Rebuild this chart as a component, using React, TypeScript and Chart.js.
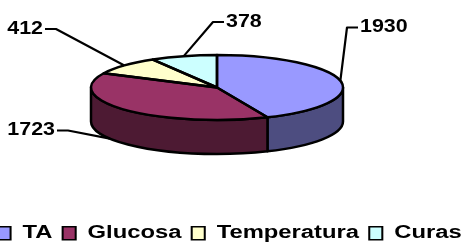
import React, { useEffect, useRef } from "react";
import { Chart, registerables } from "chart.js";

Chart.register(...registerables);

// ---- data ----
const categories = ["TA", "Glucosa", "Temperatura", "Curas"];
const values = [1930, 1723, 412, 378];
const topColors = ["#9999FF", "#993366", "#FFFFCC", "#CCFFFF"];
const sideColors = ["#4D4D80", "#4D1A33", "#80806A", "#6A8080"];

// ---- layout ----
const PIE = { cx: 217, cy: 87.5, rx: 126, ry: 32.5, depth: 34 };
const LABEL_LAYOUT = [
  { x: 360, y: 27.5, align: "left", shift: 0 },
  { x: 55, y: 130.5, align: "right", shift: 12 },
  { x: 43, y: 29, align: "right", shift: 0 },
  { x: 226, y: 22, align: "left", shift: 0 },
];
const LABEL_STRETCH = 1.19;
const LEGEND_T = { cx: 231, sx: 1.36, dx: -1.4, dy: 4 };
const FONT = "'Liberation Sans', Arial, sans-serif";
const LINE_W = 2.5;
const LEADER_W = 2.2;

const pie3d = {
  id: "pie3d",
  afterInit(chart: any) {
    const lg = chart.legend;
    if (!lg || lg.__patched) return;
    const orig = lg.draw;
    lg.draw = function (...args: any[]) {
      const ctx = chart.ctx;
      ctx.save();
      ctx.translate(LEGEND_T.cx + LEGEND_T.dx, LEGEND_T.dy);
      ctx.scale(LEGEND_T.sx, 1);
      ctx.translate(-LEGEND_T.cx, 0);
      orig.apply(this, args);
      ctx.restore();
    };
    lg.__patched = true;
  },
  beforeDatasetsDraw(chart: any) {
    const ctx = chart.ctx;
    const arcs = chart.getDatasetMeta(0).data;
    // side walls (front half only)
    ctx.save();
    ctx.lineWidth = LINE_W;
    ctx.strokeStyle = "#000";
    ctx.lineJoin = "round";
    arcs.forEach((arc: any, i: number) => {
      for (let k = -1; k <= 1; k++) {
        const a = Math.max(arc.startAngle, 2 * Math.PI * k);
        const b = Math.min(arc.endAngle, Math.PI + 2 * Math.PI * k);
        if (b > a) {
          ctx.beginPath();
          ctx.ellipse(PIE.cx, PIE.cy, PIE.rx, PIE.ry, 0, a, b, false);
          ctx.ellipse(PIE.cx, PIE.cy + PIE.depth, PIE.rx, PIE.ry, 0, b, a, true);
          ctx.closePath();
          ctx.fillStyle = sideColors[i];
          ctx.fill();
          ctx.stroke();
        }
      }
    });
    ctx.restore();
    const first = arcs[0];
    const r0 = first.outerRadius;
    ctx.save();
    ctx.translate(PIE.cx, PIE.cy);
    ctx.scale(PIE.rx / r0, PIE.ry / r0);
    ctx.translate(-first.x, -first.y);
  },
  afterDatasetsDraw(chart: any) {
    const ctx = chart.ctx;
    ctx.restore();
    const arcs = chart.getDatasetMeta(0).data;
    const data = chart.data.datasets[0].data;
    ctx.save();
    ctx.setTransform(1, 0, 0, 1, 0, 0);
    ctx.lineWidth = LINE_W;
    ctx.strokeStyle = "#000";
    ctx.lineJoin = "round";
    arcs.forEach((arc: any) => {
      ctx.beginPath();
      ctx.moveTo(PIE.cx, PIE.cy);
      ctx.ellipse(PIE.cx, PIE.cy, PIE.rx, PIE.ry, 0, arc.startAngle, arc.endAngle, false);
      ctx.closePath();
      ctx.stroke();
    });
    // value labels with leader lines
    ctx.font = `bold 18px ${FONT}`;
    ctx.fillStyle = "#000";
    ctx.lineWidth = LEADER_W;
    arcs.forEach((arc: any, i: number) => {
      const L = LABEL_LAYOUT[i];
      const mid = (arc.startAngle + arc.endAngle) / 2 + (L.shift * Math.PI) / 180;
      const s = Math.sin(mid);
      const ax = PIE.cx + PIE.rx * Math.cos(mid);
      const ay = PIE.cy + PIE.ry * s + (s > 0 ? PIE.depth : 0);
      const dir = L.align === "left" ? -1 : 1;
      ctx.beginPath();
      ctx.moveTo(ax, ay);
      ctx.lineTo(L.x + dir * 13, L.y);
      ctx.lineTo(L.x + dir * 2, L.y);
      ctx.stroke();
      ctx.save();
      ctx.translate(L.x, L.y);
      ctx.scale(LABEL_STRETCH, 1);
      ctx.textAlign = L.align as CanvasTextAlign;
      ctx.textBaseline = "middle";
      ctx.fillText(String(data[i]), 0, 0);
      ctx.restore();
    });
    ctx.restore();
  },
};

export default function App() {
  const ref = useRef<HTMLCanvasElement>(null);
  useEffect(() => {
    const chart = new Chart(ref.current as HTMLCanvasElement, {
      type: "pie",
      data: {
        labels: categories,
        datasets: [
          {
            data: values,
            backgroundColor: topColors,
            borderWidth: 0,
            clip: false as any,
          },
        ],
      },
      options: {
        responsive: false,
        animation: false,
        devicePixelRatio: 1,
        events: [],
        layout: { padding: 0 },
        plugins: {
          tooltip: { enabled: false },
          legend: {
            position: "bottom",
            labels: {
              boxWidth: 9.6,
              boxHeight: 13,
              padding: 7.5,
              color: "#000",
              font: { family: FONT, size: 17.5, weight: "bold" },
              generateLabels: () =>
                categories.map((text, i) => ({
                  text,
                  fillStyle: topColors[i],
                  strokeStyle: "#000",
                  lineWidth: 1.5,
                  fontColor: "#000",
                  hidden: false,
                  index: i,
                })),
            },
          },
        },
      } as any,
      plugins: [pie3d as any],
    });
    return () => chart.destroy();
  }, []);
  return (
    <div style={{ position: "absolute", left: 0, top: 0, width: 462, height: 248, background: "#fff" }}>
      <canvas ref={ref} width={462} height={248} style={{ display: "block", width: 462, height: 248 }} />
    </div>
  );
}
